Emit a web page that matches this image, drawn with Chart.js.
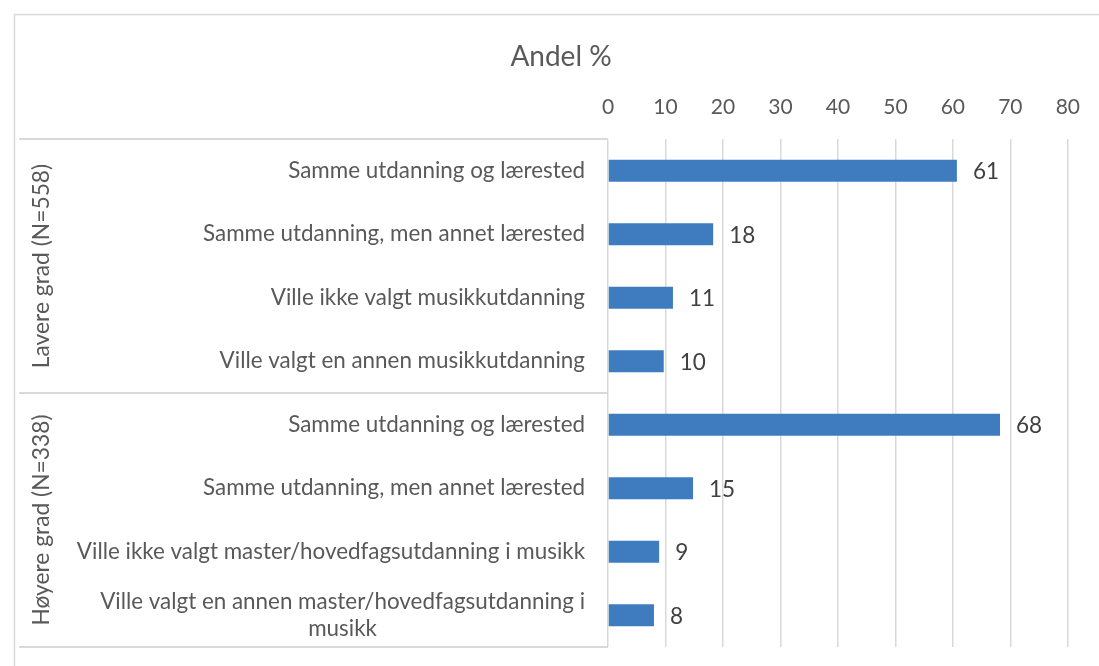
<!DOCTYPE html>
<html><head><meta charset="utf-8">
<script src="https://cdn.jsdelivr.net/npm/chart.js@4/dist/chart.umd.min.js"></script>
<style>html,body{margin:0;padding:0;background:#fff;}#wrap{width:1099px;height:666px;position:relative;}</style>
</head><body><div id="wrap"><canvas id="c" width="1099" height="666"></canvas></div>
<script>
const categories = [
  ['Samme utdanning og lærested'],
  ['Samme utdanning, men annet lærested'],
  ['Ville ikke valgt musikkutdanning'],
  ['Ville valgt en annen musikkutdanning'],
  ['Samme utdanning og lærested'],
  ['Samme utdanning, men annet lærested'],
  ['Ville ikke valgt master/hovedfagsutdanning i musikk'],
  ['Ville valgt en annen master/hovedfagsutdanning i', 'musikk']
];
const values = [60.7, 18.3, 11.3, 9.7, 68.2, 14.8, 8.9, 8.0];
const valueLabels = ['61', '18', '11', '10', '68', '15', '9', '8'];
const groups = ['Lavere grad (N=558)', 'Høyere grad (N=338)'];
const groupSizes = [4, 4];
const xMin = 0, xMax = 80, xStep = 10;
const titleText = 'Andel %';

const FONT = 'Lato, "Open Sans", sans-serif';
const TEXT = '#595959';
const GRID = '#d9d9d9';

const decor = {
  id: 'decor',
  afterDraw(chart) {
    const ctx = chart.ctx, ca = chart.chartArea, y = chart.scales.y;
    ctx.save();
    // title
    ctx.fillStyle = TEXT; ctx.font = '28px ' + FONT; ctx.textAlign = 'center'; ctx.textBaseline = 'middle';
    ctx.fillText(titleText, 561, 57);
    // outer border
    ctx.strokeStyle = GRID; ctx.lineWidth = 1.5;
    ctx.beginPath(); ctx.moveTo(14.5, 666); ctx.lineTo(14.5, 14.5); ctx.lineTo(1099, 14.5); ctx.stroke();
    // group separator lines
    const seps = [ca.top];
    let idx = 0;
    groupSizes.forEach(n => {
      idx += n;
      if (idx < categories.length) seps.push((y.getPixelForValue(idx - 1) + y.getPixelForValue(idx)) / 2);
    });
    seps.push(ca.bottom);
    ctx.lineWidth = 2;
    seps.forEach(sy => { ctx.beginPath(); ctx.moveTo(19, sy); ctx.lineTo(ca.left, sy); ctx.stroke(); });
    // category labels
    ctx.fillStyle = TEXT; ctx.font = '22.4px ' + FONT; ctx.textBaseline = 'middle';
    const rightX = ca.left - 23, lh = 27;
    categories.forEach((lines, i) => {
      const cy = y.getPixelForValue(i);
      const w = Math.max(...lines.map(l => ctx.measureText(l).width));
      ctx.textAlign = lines.length > 1 ? 'center' : 'right';
      lines.forEach((l, k) => {
        const ly = cy + (k - (lines.length - 1) / 2) * lh;
        ctx.fillText(l, lines.length > 1 ? rightX - w / 2 : rightX, ly);
      });
    });
    // group labels (rotated)
    ctx.font = '22.8px ' + FONT;
    groups.forEach((g, gi) => {
      const top = seps[gi], bot = seps[gi + 1];
      ctx.save();
      ctx.translate(42, (top + bot) / 2);
      ctx.rotate(-Math.PI / 2);
      ctx.textAlign = 'center'; ctx.textBaseline = 'middle';
      ctx.fillText(g, 0, 0);
      ctx.restore();
    });
    // value labels
    const meta = chart.getDatasetMeta(0);
    ctx.fillStyle = '#404040'; ctx.textAlign = 'left'; ctx.font = '22.5px ' + FONT; ctx.textBaseline = 'middle';
    meta.data.forEach((bar, i) => {
      ctx.fillText(valueLabels[i], bar.x + 16, bar.y + 1);
    });
    ctx.restore();
  }
};

new Chart(document.getElementById('c'), {
  type: 'bar',
  data: {
    labels: categories.map(c => c.join(' ')),
    datasets: [{
      data: values,
      backgroundColor: '#3f7cbf',
      borderWidth: 0,
      barPercentage: 0.35,
      categoryPercentage: 1.0
    }]
  },
  options: {
    indexAxis: 'y',
    responsive: false,
    animation: false,
    layout: { padding: { left: 608, right: 27, bottom: 19, top: 72 } },
    plugins: {
      legend: { display: false },
      tooltip: { enabled: false },
      title: { display: false }
    },
    scales: {
      x: {
        position: 'top', min: xMin, max: xMax,
        ticks: { stepSize: xStep, color: TEXT, font: { family: FONT, size: 21 }, padding: 19 },
        grid: { color: GRID, lineWidth: 1.5, drawTicks: false },
        border: { display: false },
        afterFit(s) { s.height = 67; }
      },
      y: { display: false }
    }
  },
  plugins: [decor]
});
</script>
</body></html>
